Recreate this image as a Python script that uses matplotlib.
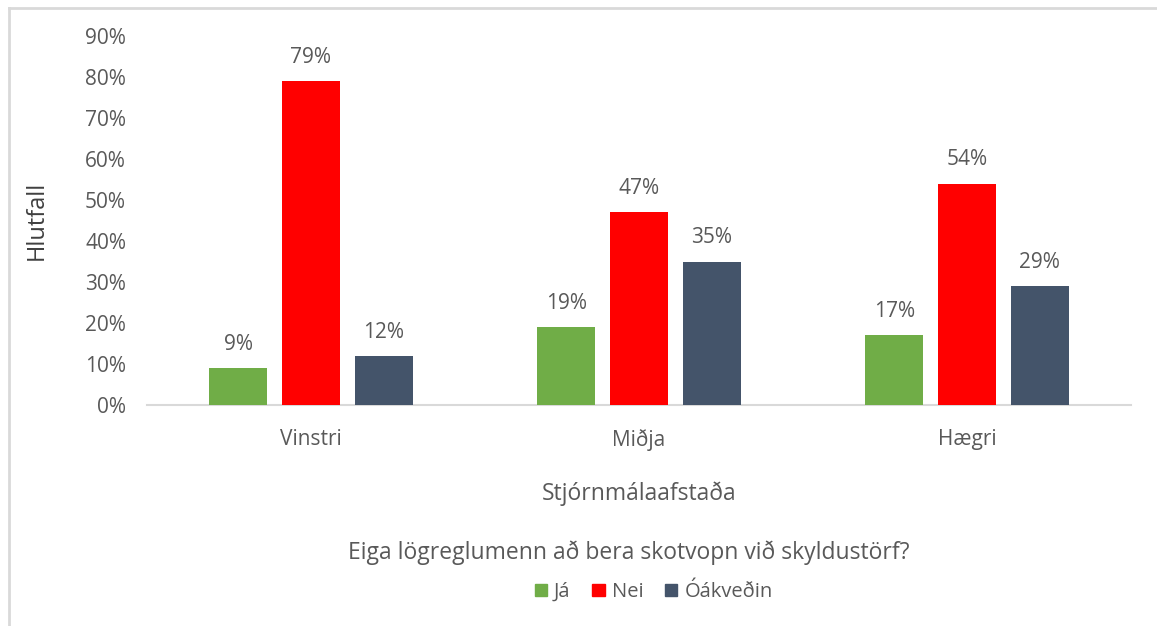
import matplotlib
matplotlib.use("Agg")
import matplotlib.pyplot as plt
import numpy as np
from matplotlib.lines import Line2D
from matplotlib.patches import Patch

plt.rcParams['font.family'] = ['Open Sans', 'DejaVu Sans']

categories = ['Vinstri', 'Miðja', 'Hægri']
series = ['Já', 'Nei', 'Óákveðin']
ja = [9, 19, 17]
nei = [79, 47, 54]
oakvedin = [12, 35, 29]
values = [ja, nei, oakvedin]
colors = ['#70AD47', '#FF0000', '#44546A']
grey = '#595959'

fig = plt.figure(figsize=(11.57, 6.26), dpi=100)
ax = fig.add_axes([0.127, 0.353, 0.8505, 0.5895])

x = np.arange(len(categories))
width = 0.177
step = 0.222
for i, (vals, c) in enumerate(zip(values, colors)):
    pos = x + (i - 1) * step
    bars = ax.bar(pos, vals, width, color=c, label=series[i], zorder=3)
    for xx, v in zip(pos, vals):
        ax.text(xx, v + 3.2, f'{v}%', ha='center', va='bottom', fontsize=15, color=grey)

ax.set_xlim(-0.5, 2.5)
ax.set_ylim(0, 90)
ax.set_yticks(range(0, 91, 10))
ax.set_yticklabels([f'{t}%' for t in range(0, 91, 10)])
ax.set_xticks(x)
ax.set_xticklabels(categories)
ax.tick_params(axis='y', length=0, labelsize=15, colors=grey, pad=15)
ax.tick_params(axis='x', length=0, labelsize=15, colors=grey, pad=17)
for s in ['top', 'right', 'left']:
    ax.spines[s].set_visible(False)
ax.spines['bottom'].set_color('#D9D9D9')
ax.spines['bottom'].set_linewidth(1.5)

ax.set_ylabel('Hlutfall', fontsize=17, color='#404040', labelpad=26)
ax.set_xlabel('Stjórnmálaafstaða', fontsize=16.5, color=grey, labelpad=22)

fig.text(0.5435, 1 - 553 / 626, 'Eiga lögreglumenn að bera skotvopn við skyldustörf?',
         ha='center', va='center', fontsize=16.5, color=grey)
handles = [Patch(color=c) for c in colors]
leg = fig.legend(handles, series, loc='center', bbox_to_anchor=(0.565, 1 - 592 / 626),
                 ncol=3, frameon=False, fontsize=14.5, handlelength=0.6, handleheight=0.6,
                 handletextpad=0.35, columnspacing=1.1)
for t in leg.get_texts():
    t.set_color(grey)

# thin frame lines at top and left
fig.add_artist(Line2D([9 / 1157, 1], [1 - 8 / 626, 1 - 8 / 626], color='#D9D9D9', lw=2))
fig.add_artist(Line2D([9 / 1157, 9 / 1157], [0, 1 - 8 / 626], color='#D9D9D9', lw=2))

fig.savefig('out.png', dpi=100)
